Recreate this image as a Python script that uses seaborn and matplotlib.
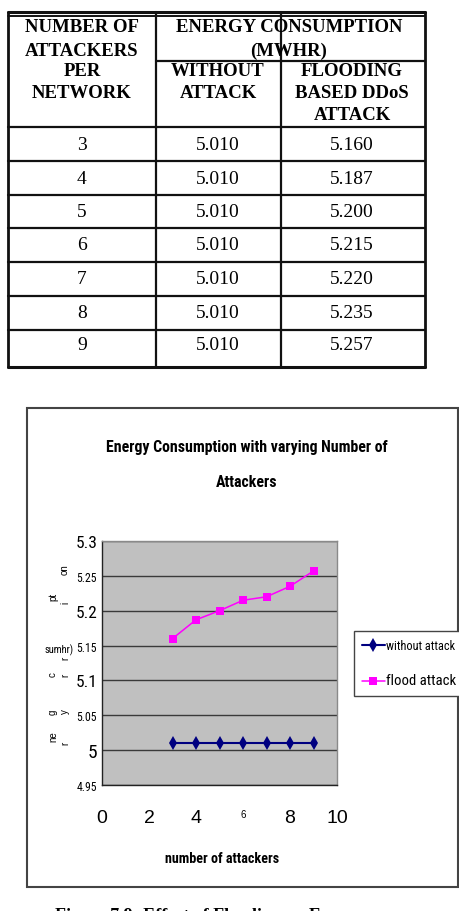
import matplotlib
matplotlib.use("Agg")
import matplotlib.pyplot as plt
from matplotlib import font_manager
from matplotlib.patches import Rectangle
import pandas as pd
import seaborn as sns

# data
attackers = [3, 4, 5, 6, 7, 8, 9]
without_attack = [5.010, 5.010, 5.010, 5.010, 5.010, 5.010, 5.010]
flood_attack = [5.160, 5.187, 5.200, 5.215, 5.220, 5.235, 5.257]
series_names = ["without attack", "flood attack"]
y_ticks = [4.95, 5.0, 5.05, 5.1, 5.15, 5.2, 5.25, 5.3]
y_tick_labels = ["4.95", "5", "5.05", "5.1", "5.15", "5.2", "5.25", "5.3"]
x_ticks = [0, 2, 4, 6, 8, 10]
x_tick_labels = ["0", "2", "4", "6", "8", "10"]
col_headers = ["NUMBER OF", "ATTACKERS", "PER", "NETWORK"]
group_header = ["ENERGY CONSUMPTION", "(MWHR)"]
sub_header_1 = ["WITHOUT", "ATTACK"]
sub_header_2 = ["FLOODING", "BASED DDoS", "ATTACK"]
ylabel_bits = ["on", "pt", "i", "r", "c", "r", "g", "y", "ne", "r"]

sns.set_theme(style="white")
names = {f.name for f in font_manager.fontManager.ttflist}
NARROW = None
for cand in ["Liberation Sans Narrow", "Arial Narrow", "Roboto Condensed"]:
    if cand in names:
        NARROW = cand
        break
if NARROW is None:
    # no narrow face here: use the Arial-metric sans, sized to the same widths
    NARROW, K = "Liberation Sans", 0.82
else:
    K = 1.0
SANS = "Liberation Sans"
SERIF = "Liberation Serif"
plt.rcParams["font.family"] = [SANS, "DejaVu Sans"]
for key in ["text.color", "axes.labelcolor", "xtick.color", "ytick.color"]:
    plt.rcParams[key] = "black"

fig = plt.figure(figsize=(4.6, 9.12), dpi=100)
bg = fig.add_axes([0, 0, 1, 1])
bg.set_xlim(0, 460)
bg.set_ylim(912, 0)
bg.axis("off")

# ---- table ----
xs = [8, 156, 281, 425]
rows = [128, 162, 196, 229, 263, 297, 331, 368]
lc = "#111111"
bg.plot([xs[0], xs[-1]], [12.5, 12.5], color=lc, lw=2.2)
bg.plot([xs[0], xs[-1]], [16.8, 16.8], color=lc, lw=1.4)
for x in xs:
    bg.plot([x, x], [12.5, rows[-1]], color=lc, lw=2.0 if x in (xs[0], xs[-1]) else 1.6)
for y in rows:
    bg.plot([xs[0], xs[-1]], [y, y], color=lc, lw=2.2 if y == rows[-1] else 1.6)
bg.plot([xs[1], xs[-1]], [62, 62], color=lc, lw=1.6)

hkw = dict(family=SERIF, weight="bold", fontsize=13.5, ha="center", va="center")
for txt, y in zip(col_headers, [28, 51, 71, 93]):
    bg.text(82, y, txt, **hkw)
for txt, y in zip(group_header, [28, 51]):
    bg.text(289, y, txt, **hkw)
for txt, y in zip(sub_header_1, [71, 93]):
    bg.text(218, y, txt, **hkw)
for txt, y in zip(sub_header_2, [71, 93, 116]):
    bg.text(352, y, txt, **hkw)

dkw = dict(family=SERIF, fontsize=14, ha="center", va="center")
for i, n in enumerate(attackers):
    yc = (rows[i] + rows[i + 1]) / 2 - (4 if i == len(attackers) - 1 else 0)
    bg.text(82, yc, str(n), **dkw)
    bg.text(218, yc, f"{without_attack[i]:.3f}", **dkw)
    bg.text(352, yc, f"{flood_attack[i]:.3f}", **dkw)

# ---- chart frame ----
bg.add_patch(Rectangle((27, 409), 431, 479, fill=False, ec="#444444", lw=1.5))
bg.text(247, 465, "Energy Consumption with varying Number of\nAttackers",
        family=NARROW, weight="bold", fontsize=10.8 * K + 0.6, ha="center",
        va="center", linespacing=2.6)
bg.text(222, 859, "number of attackers", family=NARROW, weight="bold",
        fontsize=10 * K + 0.2, ha="center", va="center")

# garbled rotated y label pieces
bit_pos = [(65, 570), (53, 597), (65, 603), (65, 658), (53, 675), (65, 675),
           (53, 712), (65, 712), (53, 737), (65, 743)]
for txt, (x, y) in zip(ylabel_bits, bit_pos):
    bg.text(x, y, txt, family=SANS, fontsize=7, rotation=90,
            ha="center", va="center")
bg.text(59, 650, "sumhr)", family=NARROW, fontsize=7.6 * K, ha="center", va="center")

# caption, mostly cut off at the page edge
bg.text(55, 908, "Figure 7.9: Effect of Flooding on Energy", family=SERIF,
        weight="bold", fontsize=13, ha="left", va="top")

# ---- plot ----
ax = fig.add_axes([102 / 460, 1 - 786 / 912, 235 / 460, 244 / 912])
df = pd.DataFrame({
    "attackers": attackers * 2,
    "energy": without_attack + flood_attack,
    "series": [series_names[0]] * len(attackers) + [series_names[1]] * len(attackers),
})
sns.lineplot(data=df, x="attackers", y="energy", hue="series", style="series",
             palette={series_names[0]: "#000080", series_names[1]: "#FF00FF"},
             markers={series_names[0]: "d", series_names[1]: "s"},
             dashes=False, linewidth=1.3, markersize=6.5, markeredgewidth=0,
             ax=ax)
ax.set_facecolor("#C0C0C0")
ax.set_xlim(0, 10)
ax.set_ylim(4.95, 5.3)
ax.set_yticks(y_ticks)
ax.set_yticklabels(y_tick_labels, family=NARROW)
ax.set_xticks(x_ticks)
ax.set_xticklabels(x_tick_labels, family=SANS)
for lab, t in zip(ax.get_yticklabels(), y_tick_labels):
    lab.set_fontsize(K * (14 if t == "5" else (12.5 if len(t) == 3 else 8.5)))
for lab, t in zip(ax.get_xticklabels(), x_tick_labels):
    lab.set_fontsize(7 if t == "6" else 14)
ax.tick_params(axis="y", direction="out", length=3, width=0.8, pad=0.5, color="#333333")
ax.tick_params(axis="x", direction="out", length=6, width=0.8, pad=11, color="#333333")
ax.grid(axis="y", color="#3a3a3a", lw=1.0)
ax.set_axisbelow(True)
ax.set_xlabel("")
ax.set_ylabel("")
for s in ["left", "bottom"]:
    ax.spines[s].set_color("#222222")
    ax.spines[s].set_linewidth(1.0)
for s in ["top", "right"]:
    ax.spines[s].set_color("#8a8a8a")
    ax.spines[s].set_linewidth(1.0)

handles, labels = ax.get_legend_handles_labels()
ax.get_legend().remove()
for ln in list(ax.lines) + list(handles):
    if ln.get_marker() == "d":
        ln.set_markersize(7.5)
        ln.set_linewidth(1.5)
    elif ln.get_marker() == "s":
        ln.set_markersize(5.8)
        ln.set_linewidth(1.1)

leg = ax.legend(handles, labels, loc="upper left",
                bbox_to_anchor=(354 / 460, 1 - 632 / 912),
                bbox_transform=fig.transFigure, frameon=True, fancybox=False,
                edgecolor="#444444", framealpha=1, prop={"size": 8},
                handlelength=2.0, handletextpad=0.1, borderpad=0.75,
                labelspacing=1.9, borderaxespad=0)
leg.get_frame().set_linewidth(1.0)
for txt in leg.get_texts():
    txt.set_family(NARROW)
    txt.set_fontsize(K * (8.8 if txt.get_text() == series_names[0] else 10.6))

fig.savefig("out.png", dpi=100)
